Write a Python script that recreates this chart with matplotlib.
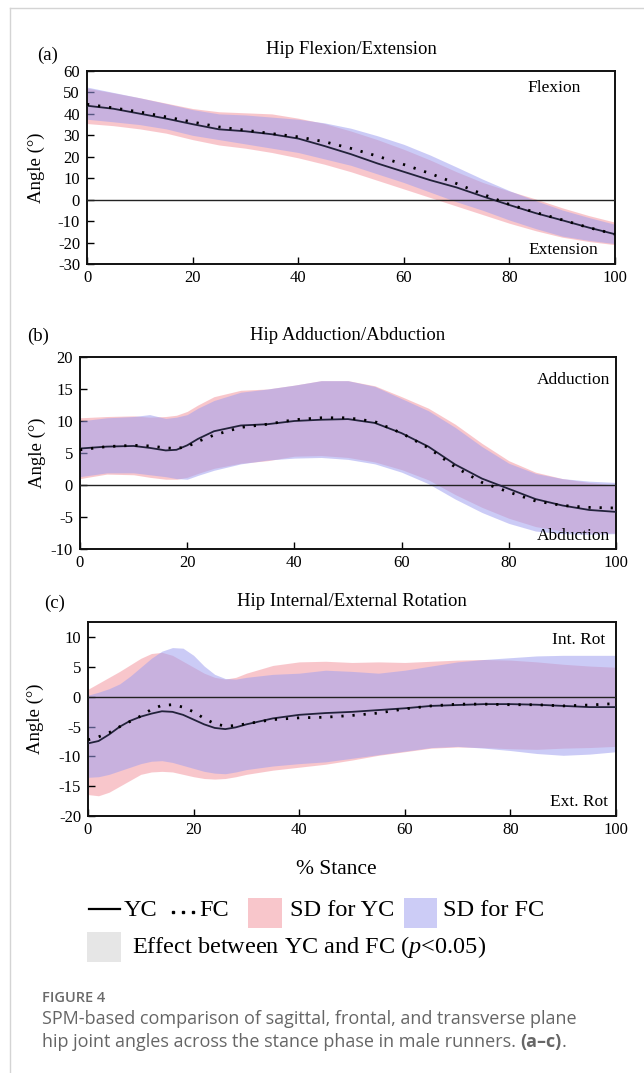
import matplotlib
matplotlib.use("Agg")
import matplotlib.pyplot as plt
from matplotlib.lines import Line2D
from matplotlib.patches import Rectangle

plt.rcParams['font.family'] = ['Liberation Serif', 'DejaVu Serif']
plt.rcParams['mathtext.fontset'] = 'custom'
plt.rcParams['mathtext.rm'] = 'Liberation Serif'
plt.rcParams['mathtext.it'] = 'Liberation Serif:italic'
plt.rcParams['axes.unicode_minus'] = False

# ---------------- data ----------------
# Panel (a) Hip Flexion/Extension
xa = [0, 5, 10, 15, 20, 25, 30, 35, 40, 45, 50, 55, 60, 65, 70, 75, 80, 85, 90, 95, 100]
yc_a = [43.8, 42.4, 40.1, 37.8, 35.2, 32.8, 31.9, 30.5, 28.5, 25.0, 21.2, 16.9, 13.0, 9.1, 5.7, 1.5, -2.5, -6.3, -9.6, -13.0, -16.1]
fc_a = [44.5, 42.8, 40.9, 38.6, 36.2, 33.9, 32.4, 30.8, 29.3, 27.0, 23.9, 20.3, 16.4, 12.2, 7.5, 2.5, -2.2, -6.0, -9.4, -13.0, -16.1]
yc_a_up = [52.0, 49.8, 47.5, 45.0, 42.5, 41.0, 40.5, 40.0, 38.0, 35.5, 32.0, 28.0, 23.5, 18.5, 13.0, 8.0, 4.0, 0.3, -3.8, -7.4, -10.5]
fc_a_up = [52.5, 50.0, 47.5, 44.8, 42.0, 40.0, 39.5, 38.5, 37.5, 35.8, 33.3, 29.8, 25.8, 20.8, 15.2, 9.5, 4.2, -0.5, -4.8, -8.3, -11.5]
yc_a_lo = [35.5, 34.5, 33.0, 31.0, 28.0, 25.5, 24.0, 22.0, 19.5, 16.5, 13.0, 9.0, 5.0, 1.0, -3.0, -7.0, -11.0, -14.5, -17.5, -19.5, -21.0]
fc_a_lo = [37.5, 36.3, 35.0, 33.0, 30.0, 28.0, 26.0, 24.0, 22.0, 19.0, 16.0, 12.0, 8.0, 3.5, -1.0, -5.0, -9.5, -13.5, -17.0, -19.0, -20.5]

# Panel (b) Hip Adduction/Abduction
xb = [0, 5, 10, 13, 16, 18, 20, 22, 25, 30, 35, 40, 45, 50, 55, 60, 65, 70, 75, 80, 85, 90, 95, 100]
yc_b = [5.7, 6.0, 6.1, 5.8, 5.4, 5.5, 6.2, 7.2, 8.4, 9.3, 9.5, 10.0, 10.2, 10.3, 9.7, 8.1, 6.0, 3.2, 1.0, -0.6, -2.2, -3.2, -3.9, -4.2]
fc_b = [5.5, 6.0, 6.2, 6.1, 5.8, 5.7, 6.0, 6.8, 7.8, 9.0, 9.5, 10.2, 10.5, 10.5, 9.9, 8.1, 5.8, 2.8, 0.4, -1.1, -2.5, -3.2, -3.5, -3.6]
yc_b_up = [10.5, 10.7, 10.8, 10.6, 10.7, 10.9, 11.5, 12.5, 13.8, 14.8, 15.0, 15.6, 16.3, 16.3, 15.5, 13.8, 12.0, 9.5, 6.5, 3.8, 2.0, 1.0, 0.4, 0.0]
fc_b_up = [10.0, 10.5, 10.7, 11.0, 10.4, 10.6, 11.0, 12.0, 13.2, 14.5, 15.0, 15.6, 16.3, 16.3, 15.4, 13.5, 11.6, 9.0, 6.0, 3.4, 1.8, 1.0, 0.6, 0.4]
yc_b_lo = [1.0, 1.7, 1.6, 1.2, 0.9, 0.9, 1.2, 1.8, 2.6, 3.4, 3.8, 4.5, 4.6, 4.3, 3.6, 2.4, 0.8, -1.5, -3.5, -5.2, -6.5, -7.2, -7.5, -7.5]
fc_b_lo = [1.3, 1.9, 1.9, 1.6, 1.3, 1.0, 0.9, 1.5, 2.3, 3.3, 3.9, 4.2, 4.3, 4.0, 3.3, 2.0, 0.2, -2.2, -4.3, -6.0, -7.2, -7.6, -7.7, -7.6]

# Panel (c) Hip Internal/External Rotation
xc = [0, 2, 4, 6, 8, 10, 12, 14, 16, 18, 20, 22, 24, 26, 28, 30, 35, 40, 45, 50, 55, 60, 65, 70, 75, 80, 85, 90, 95, 100]
yc_c = [-7.8, -7.4, -6.3, -5.0, -4.0, -3.3, -2.8, -2.4, -2.5, -3.0, -3.8, -4.6, -5.2, -5.4, -5.1, -4.6, -3.6, -3.0, -2.7, -2.5, -2.2, -1.9, -1.5, -1.35, -1.2, -1.2, -1.3, -1.5, -1.7, -1.7]
fc_c = [-7.2, -6.7, -6.0, -5.0, -4.1, -3.2, -2.1, -1.4, -1.3, -1.7, -2.5, -3.6, -4.5, -4.9, -4.8, -4.5, -3.8, -3.5, -3.4, -3.1, -2.7, -2.0, -1.5, -1.2, -1.2, -1.3, -1.3, -1.5, -1.35, -1.1]
yc_c_up = [1.3, 2.3, 3.3, 4.3, 5.4, 6.5, 7.3, 7.5, 7.0, 6.0, 5.0, 4.0, 3.3, 3.0, 3.3, 4.0, 5.3, 5.9, 6.0, 5.8, 5.9, 5.8, 6.0, 6.2, 6.3, 6.2, 5.9, 5.5, 5.2, 5.0]
fc_c_up = [0.3, 0.8, 1.4, 2.2, 3.5, 5.0, 6.5, 7.7, 8.3, 8.2, 7.0, 5.2, 3.8, 3.1, 3.0, 3.3, 3.8, 4.0, 4.5, 4.3, 4.0, 4.5, 5.2, 5.9, 6.3, 6.6, 6.9, 7.0, 7.0, 7.0]
yc_c_lo = [-16.4, -16.6, -16.0, -15.0, -14.0, -13.0, -12.6, -12.5, -12.6, -13.0, -13.4, -13.7, -13.8, -13.7, -13.4, -13.0, -12.3, -11.8, -11.3, -10.6, -9.8, -9.2, -8.6, -8.4, -8.5, -8.7, -8.8, -8.6, -8.5, -8.3]
fc_c_lo = [-13.5, -13.4, -13.0, -12.4, -11.8, -11.2, -10.8, -10.7, -11.0, -11.5, -12.0, -12.5, -12.8, -12.9, -12.6, -12.2, -11.6, -11.2, -10.9, -10.3, -9.7, -9.1, -8.5, -8.3, -8.6, -9.0, -9.5, -9.8, -9.6, -9.2]

titles = ["Hip Flexion/Extension", "Hip Adduction/Abduction", "Hip Internal/External Rotation"]
panel_tags = ["(a)", "(b)", "(c)"]
top_labels = ["Flexion", "Adduction", "Int. Rot"]
bottom_labels = ["Extension", "Abduction", "Ext. Rot"]
legend_labels = ["YC", "FC", "SD for YC", "SD for FC", "Effect between YC and FC ($p$<0.05)"]
caption_head = "FIGURE 4"
caption_line1 = "SPM-based comparison of sagittal, frontal, and transverse plane"
caption_line2 = "hip joint angles across the stance phase in male runners. "
caption_bold = "(a\u2013c)"

# ---------------- layout helpers ----------------
W, H = 644, 1073
fig = plt.figure(figsize=(W / 100, H / 100), dpi=100)

def box(l, t, r, b):
    return [l / W, 1 - b / H, (r - l) / W, (b - t) / H]

def fx(px):
    return px / W

def fy(py):
    return 1 - py / H

PINK = (0.953, 0.561, 0.600)
BLUE = (0.627, 0.627, 0.941)
PINK_A = 0.5
BLUE_A = 0.54
LINE_C = '#22223a'

panels = [
    dict(pos=box(87, 71, 615, 264), x=xa, yc=yc_a, fc=fc_a, ycu=yc_a_up, fcu=fc_a_up, ycl=yc_a_lo, fcl=fc_a_lo,
         ylim=(-30, 60), yticks=list(range(-30, 61, 10)),
         top_xy=(88.5, 52.0), bot_xy=(90.3, -23.5), title_y=50, tag_xy=(48, 55), ylab_x=45),
    dict(pos=box(80, 357, 616, 549), x=xb, yc=yc_b, fc=fc_b, ycu=yc_b_up, fcu=fc_b_up, ycl=yc_b_lo, fcl=fc_b_lo,
         ylim=(-10, 20), yticks=list(range(-10, 21, 5)),
         top_xy=(92.0, 16.4), bot_xy=(92.0, -8.0), title_y=335, tag_xy=(38, 336), ylab_x=46),
    dict(pos=box(88, 622, 616, 816), x=xc, yc=yc_c, fc=fc_c, ycu=yc_c_up, fcu=fc_c_up, ycl=yc_c_lo, fcl=fc_c_lo,
         ylim=(-20, 12.6), yticks=list(range(-20, 11, 5)),
         top_xy=(93.0, 9.6), bot_xy=(93.0, -17.6), title_y=602, tag_xy=(55, 603), ylab_x=44),
]

for i, p in enumerate(panels):
    ax = fig.add_axes(p['pos'])
    ax.fill_between(p['x'], p['ycl'], p['ycu'], color=PINK, alpha=PINK_A, lw=0, zorder=1)
    ax.fill_between(p['x'], p['fcl'], p['fcu'], color=BLUE, alpha=BLUE_A, lw=0, zorder=2)
    ax.axhline(0, color='#222222', lw=1.0, zorder=3)
    ax.plot(p['x'], p['yc'], color=LINE_C, lw=1.3, zorder=4)
    ax.plot(p['x'], p['fc'], color='black', lw=2.0, ls=(0, (0.8, 3.2)), zorder=5)
    ax.set_xlim(0, 100)
    ax.set_ylim(*p['ylim'])
    ax.set_xticks([0, 20, 40, 60, 80, 100])
    ax.set_yticks(p['yticks'])
    ax.tick_params(direction='in', length=5, width=1.0, labelsize=12, top=False, right=False)
    ax.tick_params(axis='x', pad=4)
    ax.tick_params(axis='y', pad=5)
    for s in ax.spines.values():
        s.set_linewidth(1.4)
        s.set_color('#111111')
    ax.set_ylabel("Angle (\u00b0)", fontsize=13.5)
    l, b, w, h = p['pos']
    ax.yaxis.set_label_coords((fx(p['ylab_x']) - l) / w, 0.5)
    ax.text(*p['top_xy'], top_labels[i], fontsize=12.5, ha='center', va='center', zorder=6)
    ax.text(*p['bot_xy'], bottom_labels[i], fontsize=12.5, ha='center', va='center', zorder=6)
    fig.text(l + w / 2, fy(p['title_y']), titles[i], fontsize=13.5, ha='center', va='center')
    fig.text(fx(p['tag_xy'][0]), fy(p['tag_xy'][1]), panel_tags[i], fontsize=13.5, ha='center', va='center')
    if i == 2:
        ax.set_xlabel("% Stance", fontsize=15.5)
        ax.xaxis.set_label_coords((fx(336) - l) / w, (fy(860) - b) / h)

# ---------------- legend ----------------
fs_leg = 17.5
fig.add_artist(Line2D([fx(89), fx(120)], [fy(909), fy(909)], color='black', lw=1.6))
fig.text(fx(124), fy(910), legend_labels[0], fontsize=fs_leg, va='center', ha='left')
fig.add_artist(Line2D([fx(173), fx(183), fx(193)], [fy(912)] * 3, ls='none', marker='s', ms=2.0,
                      color='black', mec='black'))
fig.text(fx(199), fy(910), legend_labels[1], fontsize=fs_leg, va='center', ha='left')
fig.add_artist(Rectangle((fx(248), fy(928)), fx(282) - fx(248), fy(898) - fy(928),
                         transform=fig.transFigure, facecolor=PINK, alpha=PINK_A, lw=0))
fig.text(fx(290), fy(910), legend_labels[2], fontsize=fs_leg, va='center', ha='left')
fig.add_artist(Rectangle((fx(404), fy(928)), fx(437) - fx(404), fy(898) - fy(928),
                         transform=fig.transFigure, facecolor=(0.8, 0.8, 0.965), lw=0))
fig.text(fx(443), fy(910), legend_labels[3], fontsize=fs_leg, va='center', ha='left')
fig.add_artist(Rectangle((fx(87), fy(962)), fx(121) - fx(87), fy(932) - fy(962),
                         transform=fig.transFigure, facecolor='#e6e6e6', lw=0))
fig.text(fx(132), fy(947), legend_labels[4], fontsize=fs_leg, va='center', ha='left')

# ---------------- frame and caption ----------------
fig.add_artist(Line2D([fx(9.5), fx(9.5)], [fy(7.5), fy(1073)], color='#d4d4d4', lw=1.0))
fig.add_artist(Line2D([fx(9.5), fx(644)], [fy(7.5), fy(7.5)], color='#d4d4d4', lw=1.0))

cap_font = ['Open Sans', 'DejaVu Sans']
cap_fs = 13.0
fig.text(fx(42), fy(998), caption_head, fontsize=10.5, fontweight='semibold', color='#6a6a6a',
         family=cap_font, va='center', ha='left')
fig.text(fx(42), fy(1019), caption_line1, fontsize=cap_fs, color='#666666', family=cap_font,
         va='center', ha='left')
t2 = fig.text(fx(42), fy(1042), caption_line2, fontsize=cap_fs, color='#666666', family=cap_font,
              va='center', ha='left')
fig.canvas.draw()
bb = t2.get_window_extent(renderer=fig.canvas.get_renderer())
tb = fig.text(bb.x1 / W, fy(1042), caption_bold, fontsize=cap_fs, fontweight='bold', color='#666666',
              family=cap_font, va='center', ha='left')
bb2 = tb.get_window_extent(renderer=fig.canvas.get_renderer())
fig.text(bb2.x1 / W, fy(1042), ".", fontsize=cap_fs, color='#666666', family=cap_font,
         va='center', ha='left')

fig.savefig("out.png", dpi=100)
